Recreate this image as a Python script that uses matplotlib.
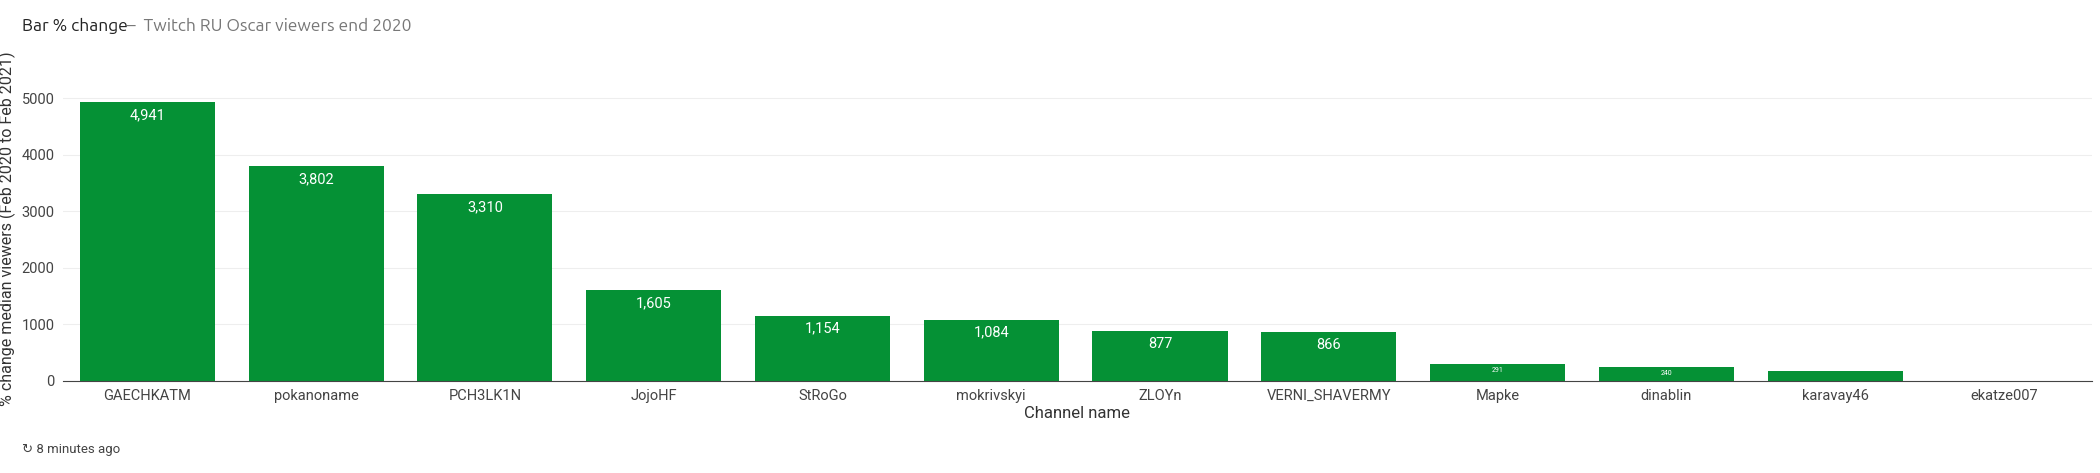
import matplotlib
matplotlib.use('Agg')
import matplotlib.pyplot as plt

channels = ['GAECHKATM', 'pokanoname', 'PCH3LK1N', 'JojoHF', 'StRoGo', 'mokrivskyi',
            'ZLOYn', 'VERNI_SHAVERMY', 'Mapke', 'dinablin', 'karavay46', 'ekatze007']
pct_change = [4941, 3802, 3310, 1605, 1154, 1084, 877, 866, 291, 240, 170, 0]
yticks = [0, 1000, 2000, 3000, 4000, 5000]

plt.rcParams['font.family'] = ['Roboto', 'DejaVu Sans']
fig = plt.figure(figsize=(21, 4.73), dpi=100)
ax = fig.add_axes([0.030, 0.195, 0.966, 0.645])

ax.bar(range(len(channels)), pct_change, width=0.8, color='#059135')
for i, v in enumerate(pct_change):
    if v < 200:
        continue
    if v > 500:
        ax.text(i, v - 110, f'{v:,}', ha='center', va='top', color='white', fontsize=10.5)
    else:
        ax.text(i, v - 50, f'{v:,}', ha='center', va='top', color='white', fontsize=5)

ax.set_xlim(-0.5, 11.52)
ax.set_ylim(0, 5400)
ax.set_yticks(yticks)
ax.set_xticks(range(len(channels)))
ax.set_xticklabels(channels)
ax.tick_params(axis='both', length=0, labelsize=10.5, colors='#444444', pad=6)
ax.grid(axis='y', color='#eeeeee', linewidth=0.8)
ax.set_axisbelow(True)
for s in ['top', 'right', 'left']:
    ax.spines[s].set_visible(False)
ax.spines['bottom'].set_color('#444444')
ax.set_xlabel('Channel name', fontsize=12, color='#333333', labelpad=2)
ax.set_ylabel('% change median viewers (Feb 2020 to Feb 2021)', fontsize=11.5, color='#333333')

fig.text(0.0105, 0.945, 'Bar % change', fontsize=12.5, color='#222222',
         family=['Ubuntu', 'Open Sans', 'DejaVu Sans'], va='center')
fig.text(0.0605, 0.945, '–  Twitch RU Oscar viewers end 2020', fontsize=12.5, color='#777777',
         family=['Ubuntu', 'Open Sans', 'DejaVu Sans'], va='center')
fig.text(0.0105, 0.05, '↻ 8 minutes ago', fontsize=9.5, color='#444444', va='center')

fig.savefig('out.png')
